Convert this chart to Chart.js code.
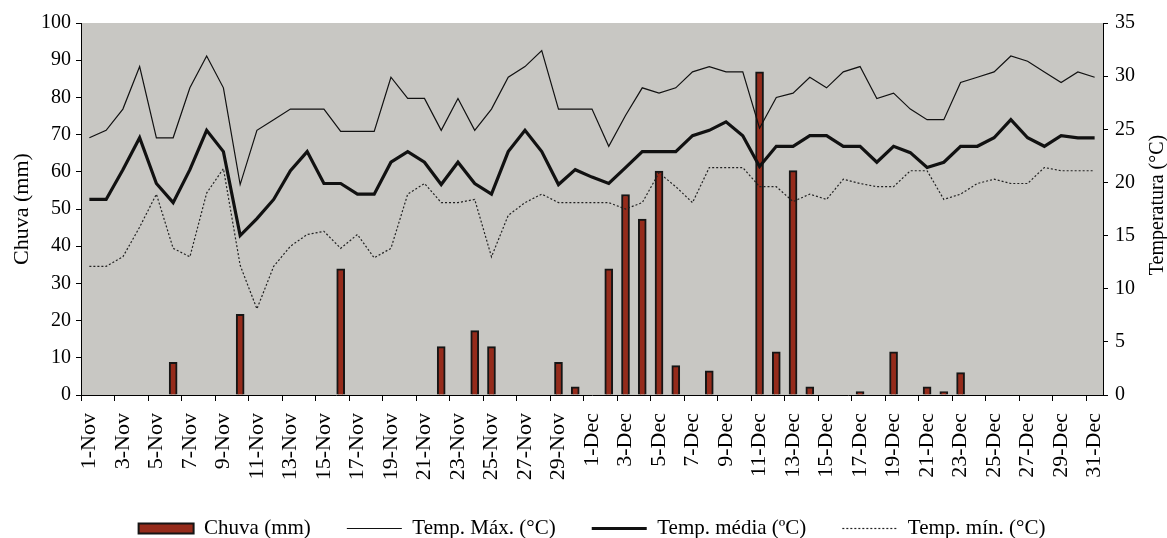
<!DOCTYPE html>
<html>
<head>
<meta charset="utf-8">
<script src="https://cdn.jsdelivr.net/npm/chart.js@4.4.1/dist/chart.umd.min.js"></script>
<style>
  body { margin: 0; background: #fff; }
</style>
</head>
<body>
<canvas id="chart" width="1167" height="538"></canvas>
<script>
const days = [
  '1-Nov', '2-Nov', '3-Nov', '4-Nov', '5-Nov', '6-Nov', '7-Nov', '8-Nov', '9-Nov', '10-Nov',
  '11-Nov', '12-Nov', '13-Nov', '14-Nov', '15-Nov', '16-Nov', '17-Nov', '18-Nov', '19-Nov', '20-Nov',
  '21-Nov', '22-Nov', '23-Nov', '24-Nov', '25-Nov', '26-Nov', '27-Nov', '28-Nov', '29-Nov', '30-Nov',
  '1-Dec', '2-Dec', '3-Dec', '4-Dec', '5-Dec', '6-Dec', '7-Dec', '8-Dec', '9-Dec', '10-Dec',
  '11-Dec', '12-Dec', '13-Dec', '14-Dec', '15-Dec', '16-Dec', '17-Dec', '18-Dec', '19-Dec', '20-Dec',
  '21-Dec', '22-Dec', '23-Dec', '24-Dec', '25-Dec', '26-Dec', '27-Dec', '28-Dec', '29-Dec', '30-Dec',
  '31-Dec'
];

// chuva (mm), eixo esquerdo
const chuva = [
  0, 0, 0, 0, 0, 8.8, 0, 0, 0, 21.7,
  0, 0, 0, 0, 0, 33.9, 0, 0, 0, 0,
  0, 13.0, 0, 17.3, 13.0, 0, 0, 0, 8.8, 2.2,
  0, 33.9, 53.9, 47.3, 60.2, 7.9, 0, 6.5, 0, 0,
  86.9, 11.6, 60.3, 2.2, 0, 0, 0.9, 0, 11.6, 0,
  2.2, 0.9, 6.0, 0, 0, 0, 0, 0, 0, 0,
  0
];

// temperaturas (°C), eixo direito
const tmax = [
  24.2, 24.9, 26.9, 30.9, 24.2, 24.2, 28.9, 31.9, 28.9, 19.8,
  24.9, 25.9, 26.9, 26.9, 26.9, 24.8, 24.8, 24.8, 29.9, 27.9,
  27.9, 24.9, 27.9, 24.9, 26.9, 29.9, 30.9, 32.4, 26.9, 26.9,
  26.9, 23.4, 26.3, 28.9, 28.4, 28.9, 30.4, 30.9, 30.4, 30.4,
  25.1, 28.0, 28.4, 29.9, 28.9, 30.4, 30.9, 27.9, 28.4, 26.9,
  25.9, 25.9, 29.4, 29.9, 30.4, 31.9, 31.4, 30.4, 29.4, 30.4,
  29.9
];
const tmed = [
  18.4, 18.4, 21.2, 24.2, 19.9, 18.1, 21.2, 24.9, 22.9, 15.0,
  16.6, 18.4, 21.1, 22.9, 19.9, 19.9, 18.9, 18.9, 21.9, 22.9,
  21.9, 19.8, 21.9, 19.9, 18.9, 22.9, 24.9, 22.9, 19.8, 21.2,
  20.5, 19.9, 21.4, 22.9, 22.9, 22.9, 24.4, 24.9, 25.7, 24.4,
  21.5, 23.4, 23.4, 24.4, 24.4, 23.4, 23.4, 21.9, 23.4, 22.8,
  21.4, 21.9, 23.4, 23.4, 24.2, 25.9, 24.2, 23.4, 24.4, 24.2,
  24.2
];
const tmin = [
  12.1, 12.1, 13.0, 15.8, 18.9, 13.8, 13.0, 19.0, 21.3, 12.2,
  8.1, 12.1, 14.0, 15.1, 15.4, 13.8, 15.1, 12.9, 13.8, 18.9,
  19.9, 18.1, 18.1, 18.4, 13.0, 16.9, 18.1, 18.9, 18.1, 18.1,
  18.1, 18.1, 17.5, 18.1, 20.9, 19.6, 18.1, 21.4, 21.4, 21.4,
  19.6, 19.6, 18.2, 18.9, 18.4, 20.3, 19.9, 19.6, 19.6, 21.1,
  21.1, 18.4, 18.9, 19.9, 20.3, 19.9, 19.9, 21.4, 21.1, 21.1,
  21.1
];

Chart.defaults.font.family = '"Liberation Serif", "Times New Roman", serif';
Chart.defaults.color = '#000';

// fundo cinza só na área do gráfico
const plotBg = {
  id: 'plotBg',
  beforeDraw(chart) {
    const { ctx, chartArea: a } = chart;
    ctx.save();
    ctx.fillStyle = '#c8c7c3';
    ctx.fillRect(a.left, a.top, a.right - a.left, a.bottom - a.top);
    ctx.restore();
  }
};

// título do eixo direito, lido de baixo para cima como no original
const rightTitle = {
  id: 'rightTitle',
  afterDraw(chart) {
    const { ctx, chartArea: a } = chart;
    ctx.save();
    ctx.translate(1158, (a.top + a.bottom) / 2 - 4);
    ctx.rotate(-Math.PI / 2);
    ctx.font = '20px "Liberation Serif", serif';
    ctx.fillStyle = '#000';
    ctx.textAlign = 'center';
    ctx.textBaseline = 'middle';
    ctx.fillText('Temperatura (°C)', 0, 0);
    ctx.restore();
  }
};

const ctx = document.getElementById('chart').getContext('2d');
const chart = new Chart(ctx, {
  type: 'bar',
  data: {
    labels: days,
    datasets: [
      {
        type: 'bar',
        label: 'Chuva (mm)',
        data: chuva,
        yAxisID: 'y',
        backgroundColor: '#952b1b',
        borderColor: '#151515',
        borderWidth: 2,
        barThickness: 8,
        order: 2
      },
      {
        type: 'line',
        label: 'Temp. Máx. (°C)',
        data: tmax,
        yAxisID: 'y1',
        borderColor: '#111',
        backgroundColor: 'transparent',
        borderWidth: 1.2,
        pointRadius: 0,
        tension: 0,
        order: 1
      },
      {
        type: 'line',
        label: 'Temp. média (ºC)',
        data: tmed,
        yAxisID: 'y1',
        borderColor: '#111',
        backgroundColor: 'transparent',
        borderWidth: 3.2,
        pointRadius: 0,
        tension: 0,
        order: 1
      },
      {
        type: 'line',
        label: 'Temp. mín. (°C)',
        data: tmin,
        yAxisID: 'y1',
        borderColor: '#222',
        backgroundColor: 'transparent',
        borderWidth: 1.2,
        borderDash: [2, 2],
        pointRadius: 0,
        tension: 0,
        order: 1
      }
    ]
  },
  options: {
    responsive: false,
    animation: false,
    layout: { padding: { left: 17, top: 23, right: 0, bottom: 0 } },
    plugins: {
      tooltip: { enabled: false },
      legend: {
        position: 'bottom',
        maxHeight: 56,
        labels: {
          usePointStyle: true,
          pointStyleWidth: 55,
          boxHeight: 10,
          padding: 36,
          color: '#000',
          font: { size: 21 },
          generateLabels: (c) => c.data.datasets.map((ds, i) => ({
            text: ds.label,
            datasetIndex: i,
            fillStyle: ds.backgroundColor,
            strokeStyle: ds.borderColor,
            lineWidth: ds.borderWidth,
            lineDash: ds.borderDash || [],
            pointStyle: ds.type === 'bar' ? 'rect' : 'line',
            fontColor: '#000',
            hidden: false
          }))
        }
      }
    },
    scales: {
      x: {
        offset: true,
        grid: {
          display: true,
          drawOnChartArea: false,
          offset: true,
          tickLength: 6,
          color: (c) => c.index % 2 === 0 ? '#000' : 'rgba(0,0,0,0)'
        },
        border: { color: '#000' },
        ticks: {
          autoSkip: false,
          maxRotation: 90,
          minRotation: 90,
          padding: 12,
          font: { size: 22 },
          callback: (v, i) => i % 2 === 0 ? days[i] : ''
        },
        afterFit: (s) => { s.height = 87; }
      },
      y: {
        position: 'left',
        min: 0,
        max: 100,
        ticks: { stepSize: 10, padding: 5, font: { size: 20 } },
        grid: { drawOnChartArea: false, tickLength: 5, color: '#000' },
        border: { color: '#000' },
        title: {
          display: true,
          text: 'Chuva (mm)',
          font: { size: 22, lineHeight: 1 },
          padding: { top: -6, bottom: 0 }
        },
        afterFit: (s) => { s.width = 64; }
      },
      y1: {
        position: 'right',
        min: 0,
        max: 35,
        ticks: { stepSize: 5, padding: 7, font: { size: 20 } },
        grid: { drawOnChartArea: false, tickLength: 5, color: '#000' },
        border: { color: '#000' },
        afterFit: (s) => { s.width = 64; }
      }
    }
  },
  plugins: [plotBg, rightTitle]
});
</script>
</body>
</html>
